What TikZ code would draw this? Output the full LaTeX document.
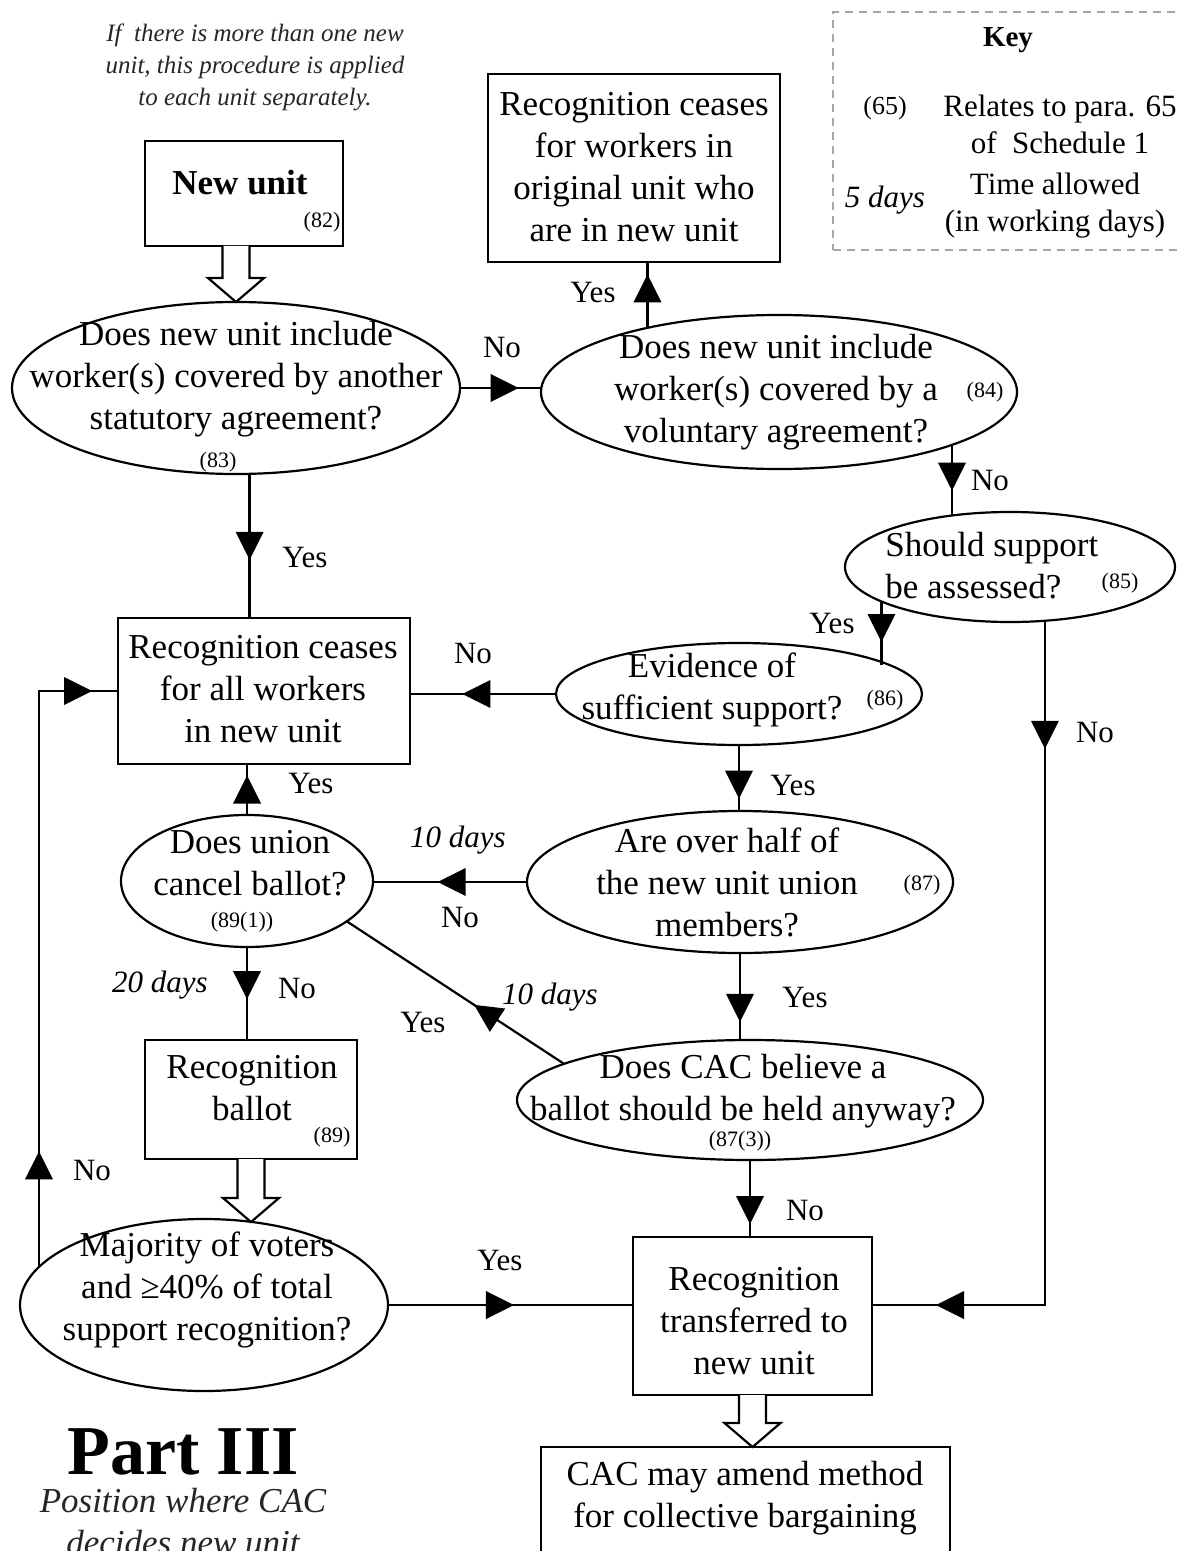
\documentclass[tikz,border=0pt]{standalone}
\usepackage{fontspec}
\setmainfont{Liberation Serif}
\usetikzlibrary{shapes.geometric,decorations.markings,calc}
\newcommand\mainsz{\fontsize{17.5}{21}\selectfont}
\newcommand\lblsz{\fontsize{15.5}{18}\selectfont}
\newcommand\refsz{\fontsize{11}{13}\selectfont}
\newcommand\keysz{\fontsize{15.5}{18.5}\selectfont}
\newcommand\notesz{\fontsize{12.5}{16}\selectfont}
\newcommand\arrowhd{\fill (7pt,0pt) -- (-7pt,7pt) -- (-7pt,-7pt) -- cycle;}
\newcommand\hollowarr[2]{%
  \draw[hollow] let \p1=(#1), \p2=(#2) in
    (\x1-6.75pt,\y1) -- (\x1-6.75pt,\y2+12pt) -- (\x1-14pt,\y2+12pt) -- (\x1,\y2)
    -- (\x1+14pt,\y2+12pt) -- (\x1+6.75pt,\y2+12pt) -- (\x1+6.75pt,\y1);}
\tikzset{
  ell/.style={draw, ellipse, line width=1.1pt, inner sep=0pt, outer sep=0pt},
  box/.style={draw, rectangle, line width=1.1pt, inner sep=0pt, outer sep=0pt},
  txt/.style={align=center, inner sep=0pt, font=\mainsz},
  lbl/.style={inner sep=0pt, font=\lblsz},
  ilbl/.style={inner sep=0pt, font=\lblsz\itshape},
  ref/.style={inner sep=0pt, font=\refsz},
  conn/.style={line width=1.1pt},
  arr/.style={conn, postaction={decorate}, decoration={markings, mark=at position #1 with {\arrowhd}}},
  arr/.default=0.5,
  arrtwo/.style 2 args={conn, postaction={decorate}, decoration={markings, mark=at position #1 with {\arrowhd}, mark=at position #2 with {\arrowhd}}},
  hollow/.style={line width=1.1pt, fill=white, line join=miter},
}
\begin{document}
\begin{tikzpicture}[x=0.5pt,y=-0.5pt]
\useasboundingbox (0,0) rectangle (1177,1551);
\fill[white] (0,0) rectangle (1177,1551);
\clip (0,0) rectangle (1177,1551);

% note
\node[align=center, inner sep=0pt, font=\notesz\itshape, text=black!85] (note) at (255,67) {If~ there is more than one new\\unit, this procedure is applied\\to each unit separately.};

% key
\node[draw=gray!70, dashed, dash pattern=on 4pt off 3pt, line width=0.6pt, minimum width=183.5pt, minimum height=119pt, inner sep=0pt] (keybox) at (1016.5,131) {};
\node[inner sep=0pt, font=\fontsize{14.5}{17}\selectfont\bfseries] (kKey) at (1008,40) {Key};
\node[inner sep=0pt, font=\fontsize{13}{16}\selectfont] (k65) at (885,108) {(65)};
\node[align=center, inner sep=0pt, font=\keysz] (k65t) at (1060,124) {Relates to para. 65\\of~ Schedule 1};
\node[inner sep=0pt, font=\keysz\itshape] (k5) at (885,200) {5 days};
\node[align=center, inner sep=0pt, font=\keysz] (k5t) at (1055,206) {Time allowed\\(in working days)};

% boxes
\node[box, minimum width=99pt, minimum height=52.5pt] (bNew) at (244,193.5) {};
\node[box, minimum width=146pt, minimum height=94pt] (bTop) at (634,168) {};
\node[box, minimum width=146pt, minimum height=73pt] (bAll) at (264,691) {};
\node[box, minimum width=106pt, minimum height=59.5pt] (bBallot) at (251,1099.5) {};
\node[box, minimum width=119.5pt, minimum height=79pt] (bTrans) at (752.5,1316) {};
\node[box, minimum width=204.5pt, minimum height=86.5pt] (bAmend) at (745.5,1533.5) {};

% ellipses
\node[ell, minimum width=224pt, minimum height=86pt] (e83) at (236,388) {};
\node[ell, minimum width=238pt, minimum height=77pt] (e84) at (779,392) {};
\node[ell, minimum width=165pt, minimum height=55pt] (e85) at (1010,567) {};
\node[ell, minimum width=183pt, minimum height=51pt] (e86) at (739,694) {};
\node[ell, minimum width=213pt, minimum height=71pt] (e87) at (740,882) {};
\node[ell, minimum width=126pt, minimum height=66pt] (eU) at (247,881) {};
\node[ell, minimum width=233pt, minimum height=60pt] (eC) at (750,1100) {};
\node[ell, minimum width=184pt, minimum height=86pt] (eM) at (204,1305) {};

% texts
\node[txt, font=\mainsz\bfseries] (tNew) at (240,183) {New unit};
\node[ref] (rNew) at (322,222) {(82)};
\node[txt] (tTop) at (634,167) {Recognition ceases\\for workers in\\original unit who\\are in new unit};
\node[txt] (t83) at (236,379) {Does new unit include\\worker(s) covered by another\\statutory agreement?};
\node[ref] (r83) at (218,462) {(83)};
\node[txt] (t84) at (776,392) {Does new unit include\\worker(s) covered by a\\voluntary agreement?};
\node[ref] (r84) at (985,392) {(84)};
\node[txt, align=left, anchor=west] (t85) at (885,566) {Should support\\be assessed?};
\node[ref] (r85) at (1120,583) {(85)};
\node[txt] (t86) at (712,690) {Evidence of\\sufficient support?};
\node[ref] (r86) at (885,700) {(86)};
\node[txt] (tAll) at (263,689) {Recognition ceases\\for all workers\\in new unit};
\node[txt] (t87) at (727,882) {Are over half of\\the new unit union\\members?};
\node[ref] (r87) at (922,885) {(87)};
\node[txt] (tU) at (250,863) {Does union\\cancel ballot?};
\node[ref] (rU) at (242,922) {(89(1))};
\node[txt] (tBal) at (252,1088) {Recognition\\ballot};
\node[ref] (rBal) at (332,1137) {(89)};
\node[txt] (tC) at (743,1091) {Does CAC believe a\\ballot should be held anyway?};
\node[ref] (rC) at (740,1141) {(87(3))};
\node[txt] (tM) at (207,1290) {Majority of voters\\and ≥40\% of total\\support recognition?};
\node[txt] (tTr) at (754,1321) {Recognition\\transferred to\\new unit};
\node[txt] (tAm) at (745,1498) {CAC may amend method\\for collective bargaining};
\node[inner sep=0pt, font=\fontsize{35}{40}\selectfont\bfseries] (part) at (183,1452) {Part III};
\node[align=center, inner sep=0pt, font=\mainsz\itshape, text=black!85] (partsub) at (183,1522) {Position where CAC\\decides new unit};

% connectors
\hollowarr{bNew.south -| e83.north}{e83.north}
\hollowarr{bBallot.south}{eM.60.5}
\hollowarr{bTrans.south}{bAmend.north}

\draw[arr=0.55] (e83.east) -- (e83.east -| e84.west);
\draw[arr=0.6] (e84.154.1) -- (e84.154.1 |- bTop.south);
\draw[arr=0.45] (e84.343.2) -- (e84.343.2 |- e85.137.8);
\draw[arr=0.42] (e85.195.7) -- (e85.195.7 |- e86.11.5);
\coordinate (tE) at (bTrans.east |- eM.east);
\draw[arrtwo={0.133}{0.909}] (e85.303.1) |- (tE);
\draw[arr=0.545] (e86.west) -- (e86.west -| bAll.east);
\draw[arr=0.5] (e83.279.3) -- (e83.279.3 |- bAll.north);
\draw[arr=0.6] (e86.south) -- (e86.south |- e87.north);
\draw[arr=0.49] (e87.west) -- (e87.west -| eU.east);
\draw[arr=0.5] (eU.north) -- (eU.north |- bAll.south);
\draw[arr=0.41] (eU.south) -- (eU.south |- bBallot.north);
\draw[arr=0.63] (e87.south) -- (e87.south |- eC.north);
\draw[arr=0.36] (eC.169.1) -- (eU.338.3);
\draw[arr=0.65] (eC.south) -- (eC.south |- bTrans.north);
\draw[arrtwo={0.155}{0.939}] (eM.167.3) |- (bAll.west);
\draw[arr=0.457] (eM.east) -- (eM.east -| bTrans.west);

% edge labels
\node[lbl] (l1) at (502,348) {No};
\node[lbl] (l2) at (593,293) {Yes};
\node[lbl] (l3) at (990,480) {No};
\node[lbl] (l4) at (832,623) {Yes};
\node[lbl] (l5) at (1095,732) {No};
\node[lbl] (l6) at (473,653) {No};
\node[lbl] (l7) at (305,557) {Yes};
\node[lbl] (l8) at (793,785) {Yes};
\node[ilbl] (l9) at (458,840) {10 days};
\node[lbl] (l10) at (460,917) {No};
\node[lbl] (l11) at (311,783) {Yes};
\node[ilbl] (l12) at (160,985) {20 days};
\node[lbl] (l13) at (297,988) {No};
\node[ilbl] (l14) at (550,997) {10 days};
\node[lbl] (l15) at (423,1022) {Yes};
\node[lbl] (l16) at (805,997) {Yes};
\node[lbl] (l17) at (805,1210) {No};
\node[lbl] (l18) at (92,1170) {No};
\node[lbl] (l19) at (500,1260) {Yes};
\end{tikzpicture}
\end{document}
